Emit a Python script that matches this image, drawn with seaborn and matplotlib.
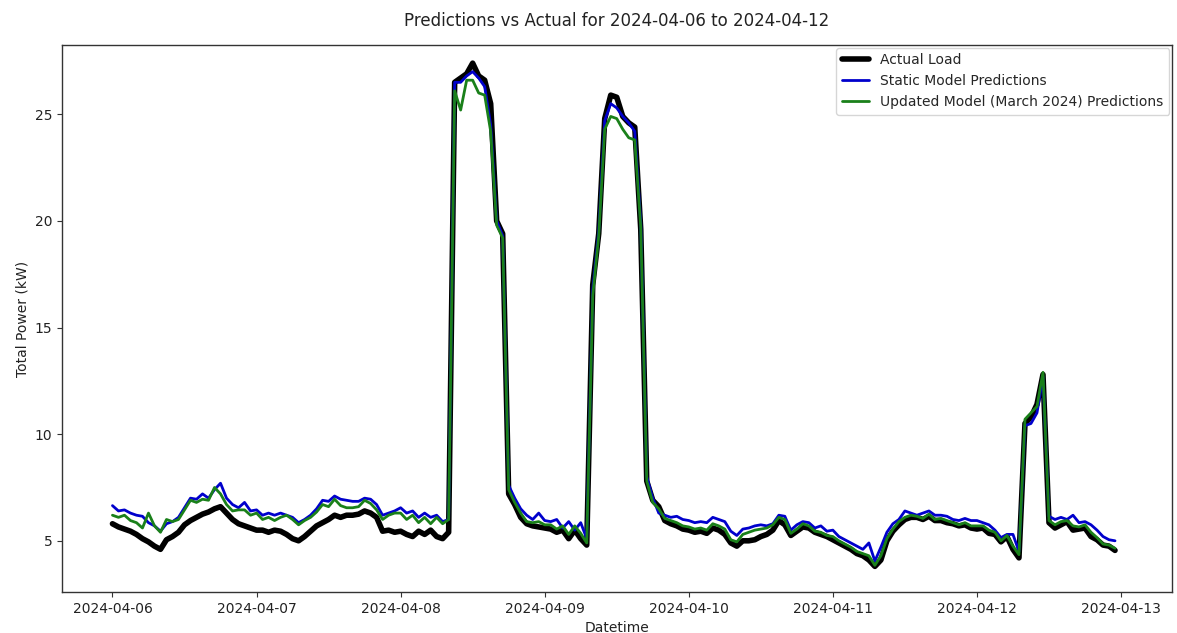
import numpy as np
import pandas as pd
import matplotlib
matplotlib.use("Agg")
import matplotlib.pyplot as plt
import matplotlib.dates as mdates
import seaborn as sns

# Hourly timestamps 2024-04-06 00:00 .. 2024-04-12 23:00
start_time = "2024-04-06 00:00"
n_hours = 168

actual_load = [
    5.8, 5.65, 5.55, 5.45, 5.3, 5.1, 4.95, 4.75, 4.6, 5.05,
    5.2, 5.4, 5.75, 5.95, 6.1, 6.25, 6.35, 6.5, 6.6, 6.3,
    6.0, 5.8, 5.7, 5.6, 5.5, 5.5, 5.4, 5.5, 5.45, 5.3,
    5.1, 5.0, 5.2, 5.45, 5.7, 5.85, 6.0, 6.2, 6.1, 6.2,
    6.2, 6.25, 6.4, 6.3, 6.1, 5.45, 5.5, 5.4, 5.45, 5.3,
    5.2, 5.45, 5.3, 5.5, 5.2, 5.1, 5.4, 26.5, 26.7, 26.9,
    27.4, 26.8, 26.6, 25.5, 20.0, 19.4, 7.2, 6.7, 6.1, 5.8,
    5.7, 5.65, 5.6, 5.55, 5.4, 5.5, 5.1, 5.5, 5.1, 4.8,
    17.0, 19.4, 24.8, 25.9, 25.8, 24.9, 24.6, 24.4, 19.6, 7.8,
    6.9, 6.6, 5.95, 5.8, 5.7, 5.55, 5.5, 5.4, 5.45, 5.35,
    5.6, 5.5, 5.3, 4.9, 4.75, 5.0, 5.0, 5.05, 5.2, 5.3,
    5.5, 5.95, 5.75, 5.25, 5.45, 5.65, 5.6, 5.4, 5.3, 5.2,
    5.05, 4.9, 4.75, 4.6, 4.4, 4.3, 4.1, 3.8, 4.1, 5.0,
    5.45, 5.75, 6.0, 6.1, 6.1, 6.0, 6.15, 5.95, 5.95, 5.85,
    5.8, 5.7, 5.75, 5.6, 5.55, 5.6, 5.35, 5.3, 4.95, 5.2,
    4.6, 4.2, 10.5, 10.8, 11.4, 12.8, 5.85, 5.6, 5.75, 5.9,
    5.5, 5.55, 5.6, 5.2, 5.05, 4.8, 4.75, 4.55,
]

static_pred = [
    6.65, 6.4, 6.45, 6.3, 6.2, 6.15, 5.85, 5.7, 5.45, 5.8,
    5.9, 6.1, 6.55, 7.0, 6.95, 7.2, 7.0, 7.4, 7.7, 7.0,
    6.7, 6.55, 6.8, 6.4, 6.45, 6.2, 6.3, 6.2, 6.3, 6.2,
    6.1, 5.85, 6.0, 6.2, 6.5, 6.9, 6.85, 7.1, 6.95, 6.9,
    6.85, 6.85, 7.0, 6.95, 6.7, 6.2, 6.3, 6.4, 6.55, 6.3,
    6.4, 6.1, 6.3, 6.1, 6.2, 5.9, 6.0, 26.5, 26.5, 26.8,
    27.0, 26.7, 26.3, 24.5, 20.0, 19.3, 7.6, 7.0, 6.5, 6.2,
    6.0, 6.3, 5.95, 5.9, 6.0, 5.6, 5.9, 5.5, 5.85, 5.1,
    16.8, 19.5, 24.7, 25.5, 25.3, 24.9, 24.6, 24.2, 19.9, 8.0,
    7.0, 6.3, 6.2, 6.1, 6.15, 6.0, 5.95, 5.85, 5.9, 5.85,
    6.1, 6.0, 5.9, 5.45, 5.25, 5.55, 5.6, 5.7, 5.75, 5.7,
    5.8, 6.2, 6.15, 5.5, 5.75, 5.9, 5.85, 5.6, 5.7, 5.45,
    5.5, 5.2, 5.05, 4.9, 4.75, 4.6, 4.9, 4.05, 4.7, 5.4,
    5.8, 6.0, 6.4, 6.3, 6.2, 6.3, 6.4, 6.2, 6.2, 6.15,
    6.0, 5.95, 6.05, 5.95, 5.95, 5.85, 5.75, 5.5, 5.15, 5.3,
    5.3, 4.5, 10.4, 10.5, 11.0, 12.7, 6.15, 6.0, 6.1, 6.0,
    6.2, 5.85, 5.9, 5.75, 5.5, 5.2, 5.05, 5.0,
]

updated_pred = [
    6.2, 6.1, 6.2, 5.95, 5.85, 5.6, 6.3, 5.7, 5.4, 6.0,
    5.9, 6.0, 6.45, 6.9, 6.8, 6.95, 6.9, 7.5, 7.2, 6.7,
    6.4, 6.45, 6.45, 6.2, 6.3, 6.0, 6.1, 5.95, 6.1, 6.2,
    6.0, 5.75, 5.95, 6.1, 6.35, 6.7, 6.6, 6.95, 6.65, 6.55,
    6.55, 6.6, 6.9, 6.75, 6.45, 6.0, 6.2, 6.3, 6.3, 6.0,
    6.2, 5.85, 6.1, 5.8, 6.1, 5.8, 6.0, 26.1, 25.2, 26.6,
    26.6, 26.0, 25.9, 24.2, 19.8, 19.2, 7.4, 6.8, 6.3, 5.9,
    5.85, 5.9, 5.75, 5.75, 5.55, 5.7, 5.3, 5.7, 5.35, 4.9,
    16.5, 19.3, 24.3, 24.9, 24.8, 24.3, 23.9, 23.8, 19.7, 7.8,
    6.8, 6.5, 6.05, 5.95, 5.85, 5.7, 5.65, 5.55, 5.6, 5.5,
    5.8, 5.7, 5.55, 5.05, 4.95, 5.3, 5.4, 5.5, 5.55, 5.6,
    5.75, 6.1, 6.0, 5.35, 5.55, 5.8, 5.7, 5.45, 5.4, 5.25,
    5.2, 5.0, 4.85, 4.7, 4.5, 4.4, 4.3, 3.85, 4.3, 5.1,
    5.55, 5.9, 6.1, 6.2, 6.15, 6.05, 6.25, 6.0, 6.05, 5.95,
    5.85, 5.75, 5.85, 5.7, 5.7, 5.7, 5.5, 5.4, 5.0, 5.25,
    4.75, 4.35, 10.7, 11.0, 11.3, 12.9, 5.95, 5.75, 5.9, 5.95,
    5.7, 5.65, 5.75, 5.4, 5.15, 4.85, 4.8, 4.65,
]

series_labels = ["Actual Load", "Static Model Predictions",
                 "Updated Model (March 2024) Predictions"]
title_text = "Predictions vs Actual for 2024-04-06 to 2024-04-12"

times = pd.date_range(start_time, periods=n_hours, freq="h")
df = pd.DataFrame({"Datetime": times, "actual": actual_load,
                   "static": static_pred, "updated": updated_pred})

sns.set_style("white")
plt.rcParams["font.family"] = ["DejaVu Sans"]

fig = plt.figure(figsize=(11.77, 6.33), dpi=100)
ax = fig.add_axes([0.0527, 0.0648, 0.9431, 0.8641])

sns.lineplot(data=df, x="Datetime", y="actual", ax=ax, color="black",
             linewidth=4, label=series_labels[0])
sns.lineplot(data=df, x="Datetime", y="static", ax=ax, color="#0000cc",
             linewidth=2, label=series_labels[1])
sns.lineplot(data=df, x="Datetime", y="updated", ax=ax, color="#1a801a",
             linewidth=2, label=series_labels[2])

ax.set_xlim(pd.Timestamp("2024-04-05 15:36"), pd.Timestamp("2024-04-13 08:30"))
ax.set_ylim(2.6, 28.25)
ax.set_yticks([5, 10, 15, 20, 25])
ax.xaxis.set_major_locator(mdates.DayLocator())
ax.xaxis.set_major_formatter(mdates.DateFormatter("%Y-%m-%d"))
ax.tick_params(axis="both", labelsize=10, length=3.5, color="#333333",
               labelcolor="#222222", bottom=True, left=True)
for sp in ax.spines.values():
    sp.set_color("#333333")
    sp.set_linewidth(1.0)

ax.set_title(title_text, fontsize=12, color="#222222", pad=14)
ax.set_xlabel("Datetime", fontsize=10, color="#222222")
ax.set_ylabel("Total Power (kW)", fontsize=10, color="#222222")

leg = ax.legend(loc="upper right", fontsize=10, frameon=True, fancybox=True,
                framealpha=0.8, edgecolor="#cccccc", borderaxespad=0.2)

fig.savefig("out.png", dpi=100, facecolor="white")
